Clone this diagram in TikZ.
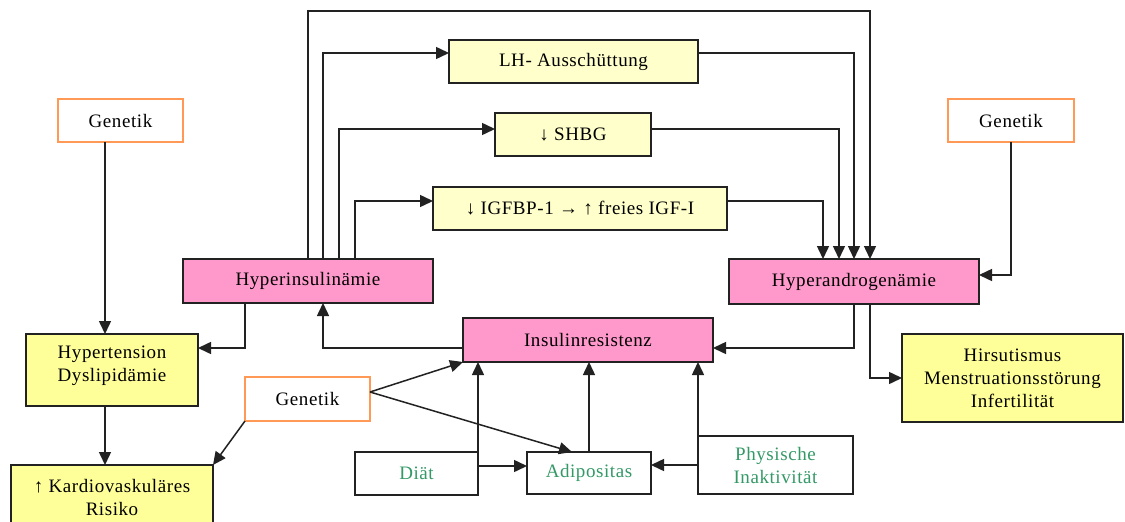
\documentclass[tikz,border=0pt]{standalone}
\usepackage{fontspec}
\setmainfont{Liberation Serif}[LetterSpace=3]
\usetikzlibrary{arrows.meta,calc}
\definecolor{lineC}{HTML}{222222}
\definecolor{pinkC}{HTML}{FF99CC}
\definecolor{yelC}{HTML}{FFFF99}
\definecolor{lyelC}{HTML}{FFFFCC}
\definecolor{oraC}{HTML}{FF9955}
\definecolor{grnC}{HTML}{339966}
\tikzset{
  bx/.style={draw=lineC, line width=1.5pt, inner sep=0pt, outer sep=0pt, align=center,
    font=\fontsize{19}{23}\selectfont, text=black},
  pinkbox/.style={bx, fill=pinkC},
  yelbox/.style={bx, fill=yelC},
  lyelbox/.style={bx, fill=lyelC},
  genbox/.style={bx, draw=oraC, fill=white},
  grnbox/.style={bx, fill=white, text=grnC},
  arr/.style={draw=lineC, line width=1.5pt, -{Triangle[length=13pt,width=12pt]}},
}
\begin{document}
\begin{tikzpicture}[x=1pt,y=-1pt]
\useasboundingbox (0,0) rectangle (1125,522);
\clip (0,0) rectangle (1125,522);
\fill[white] (0,0) rectangle (1125,522);
% nodes
\node[genbox, minimum width=125pt, minimum height=43pt] (gL) at (120.5,120.5) {Genetik};
\node[genbox, minimum width=126pt, minimum height=43pt] (gR) at (1011,120.5) {Genetik};
\node[lyelbox, minimum width=249pt, minimum height=43pt] (LH) at (573.5,61.5) {LH- Ausschüttung};
\node[lyelbox, minimum width=156pt, minimum height=43pt] (SH) at (573,134.5) {↓ SHBG};
\node[lyelbox, minimum width=294pt, minimum height=43pt] (IG) at (580,208.5) {↓ IGFBP-1 → ↑ freies IGF-I};
\node[pinkbox, minimum width=250pt, minimum height=44pt] (HI) at (308,281) {Hyperinsulinämie};
\node[pinkbox, minimum width=250pt, minimum height=45pt] (HA) at (854,281.5) {Hyperandrogenämie};
\node[pinkbox, minimum width=250pt, minimum height=44pt] (IR) at (588,340) {Insulinresistenz};
\node[yelbox, minimum width=172pt, minimum height=72pt] (HT) at (112,370) {Hypertension\\Dyslipidämie\\[-10pt]};
\node[yelbox, minimum width=221pt, minimum height=88pt] (HS) at (1012.5,378) {Hirsutismus\\Menstruationsstörung\\Infertilität};
\node[genbox, minimum width=125pt, minimum height=44pt] (gM) at (307.5,399) {Genetik};
\node[yelbox, minimum width=202pt, minimum height=65pt] (KA) at (112,497.5) {↑ Kardiovaskuläres\\Risiko};
\node[grnbox, minimum width=123pt, minimum height=43pt] (DI) at (416.5,473.5) {Diät};
\node[grnbox, minimum width=124pt, minimum height=42pt] (AD) at (589,473) {Adipositas};
\node[grnbox, minimum width=155pt, minimum height=58pt] (PH) at (775.5,465) {Physische\\Inaktivität};
\coordinate (topR) at (870,11);
% connectors from Hyperinsulinaemie upwards
\draw[arr] (HI.north) |- (topR) -- ([xshift=16pt]HA.north);
\draw[arr] ([xshift=15pt]HI.north) |- ([yshift=8.5pt]LH.west);
\draw[arr] ([xshift=31pt]HI.north) |- ([yshift=5.5pt]SH.west);
\draw[arr] ([xshift=47pt]HI.north) |- ([yshift=7.5pt]IG.west);
\draw[arr] ([yshift=8.5pt]LH.east) -| (HA.north);
\draw[arr] ([yshift=5.5pt]SH.east) -| ([xshift=-15pt]HA.north);
\draw[arr] ([yshift=7.5pt]IG.east) -| ([xshift=-31pt]HA.north);
\draw[arr] (gR.south) |- ([yshift=6.5pt]HA.east);
% left column
\draw[arr] ([xshift=-15.5pt]gL.south) -- ([xshift=-7pt]HT.north);
\draw[arr] ([xshift=-7pt]HT.south) -- ([xshift=-7pt]KA.north);
\draw[arr] ([xshift=-63pt]HI.south) |- ([yshift=22pt]HT.east);
% middle
\draw[arr] ([yshift=-8pt]IR.west) -| ([xshift=15pt]HI.south);
\draw[arr] (HA.south) |- ([yshift=-8pt]IR.east);
\draw[arr] ([xshift=16pt]HA.south) |- (HS.west);
\draw[arr] (gM.south west) -- (KA.north east);
\draw[arr] ([yshift=7pt]gM.east) -- (IR.south west);
\draw[arr] ([yshift=7pt]gM.east) -- ([xshift=-17pt]AD.north);
\draw[arr] (DI.north east) -- (DI.north east |- IR.south);
\draw[arr] ([yshift=7.5pt]DI.east) -- ([yshift=7.5pt]DI.east -| AD.west);
\draw[arr] (AD.north) -- (AD.north |- IR.south);
\draw[arr] (PH.north west) -- (PH.north west |- IR.south);
\draw[arr] (PH.west) -- (PH.west -| AD.east);
\end{tikzpicture}
\end{document}
